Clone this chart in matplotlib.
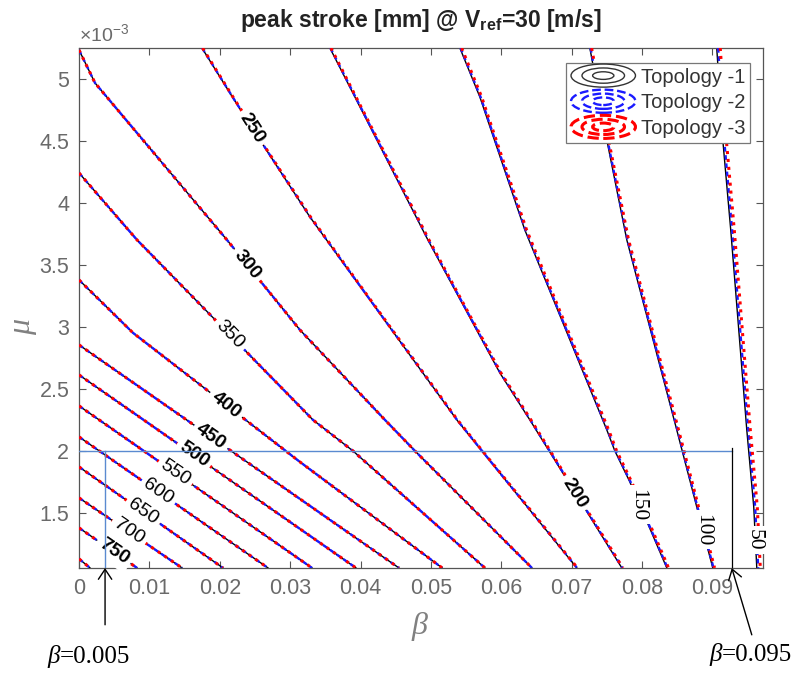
import numpy as np
import matplotlib
matplotlib.use("Agg")
import matplotlib.pyplot as plt
from matplotlib.lines import Line2D
from matplotlib.patches import Ellipse
from matplotlib.legend_handler import HandlerBase
from matplotlib.ticker import FuncFormatter

plt.rcParams["font.family"] = ["Liberation Sans", "DejaVu Sans"]
plt.rcParams["mathtext.fontset"] = "custom"
plt.rcParams["mathtext.rm"] = "Liberation Sans"
plt.rcParams["mathtext.it"] = "Liberation Sans:italic"
plt.rcParams["mathtext.bf"] = "Liberation Sans:bold"

# contour lines of peak stroke [mm] for topology 1
# beta values, mu values in units of 1e-3
b800 = [0.0, 0.00156]
m800 = [1.129, 1.056]
b750 = [0.0, 0.00824]
m750 = [1.379, 1.056]
b700 = [0.0, 0.01463]
m700 = [1.621, 1.056]
b650 = [0.0, 0.02045]
m650 = [1.871, 1.056]
b600 = [0.0, 0.02685]
m600 = [2.113, 1.056]
b550 = [0.0, 0.0331]
m550 = [2.363, 1.056]
b500 = [0.0, 0.03935]
m500 = [2.613, 1.056]
b450 = [0.0, 0.04545]
m450 = [2.855, 1.056]
b400 = [0.0, 0.00767, 0.03139, 0.0516]
m400 = [3.379, 2.952, 1.911, 1.056]
b350 = [0.0, 0.00824, 0.03324, 0.03892, 0.05767]
m350 = [4.242, 3.702, 2.25, 2.0, 1.056]
b300 = [0.0, 0.00227, 0.02102, 0.03139, 0.04347, 0.04773, 0.06435]
m300 = [5.234, 4.968, 3.702, 2.976, 2.25, 2.0, 1.056]
b250 = [0.01747, 0.02188, 0.02543, 0.03281, 0.05369, 0.05724, 0.07074]
m250 = [5.25, 4.847, 4.532, 3.887, 2.25, 2.0, 1.056]
b200 = [0.03565, 0.04957, 0.0598, 0.06406, 0.07713]
m200 = [5.25, 3.702, 2.629, 2.25, 1.056]
b150 = [0.05412, 0.05696, 0.06335, 0.075, 0.07614, 0.07827, 0.08352]
m150 = [5.25, 4.855, 3.782, 2.169, 2.0, 1.75, 1.056]
b100 = [0.07259, 0.075, 0.07784, 0.08494, 0.08778, 0.09006]
m100 = [5.25, 4.508, 3.702, 2.169, 1.548, 1.056]
b50 = [0.09062, 0.09148, 0.09261, 0.09489, 0.09588, 0.09631]
m50 = [5.25, 4.508, 3.782, 2.169, 1.548, 1.056]

levels = [800, 750, 700, 650, 600, 550, 500, 450, 400, 350, 300, 250, 200, 150, 100, 50]
line_b = [b800, b750, b700, b650, b600, b550, b500, b450, b400, b350, b300, b250, b200, b150, b100, b50]
line_m = [m800, m750, m700, m650, m600, m550, m500, m450, m400, m350, m300, m250, m200, m150, m100, m50]

# how far topology 2 and 3 sit to the right of topology 1 (in beta)
shift2 = [0, 0, 0, 0, 0, 0, 0, 0, 0, 0, 0, 0.00003, 0.00008, 0.0001, 0.0001, 0.0002]
shift3 = [0, 0, 0, 0, 0, 0, 0, 0, 0, 0, 0, 0.00008, 0.00015, 0.00025, 0.00025, 0.0005]

topologies = ["Topology -1", "Topology -2", "Topology -3"]

# inline labels (sans) : level, mu position (1e-3), bold?
lab_levels = [250, 300, 350, 400, 450, 500, 550, 600, 650, 700, 750, 200]
lab_mu = [4.605, 3.5, 2.935, 2.371, 2.113, 1.968, 1.823, 1.669, 1.508, 1.347, 1.185, 1.661]
lab_bold = [True, True, False, True, True, True, False, False, False, False, True, True]

# hand-placed labels (serif, vertical)
man_text = ["150", "100", "50"]
man_beta = [0.0794, 0.08864, 0.09588]
man_mu = [1.565, 1.363, 1.282]

mu_mark = 2.0          # 1e-3
beta_lo_line = 0.0037
beta_hi_line = 0.09276


class ContourIcon(HandlerBase):
    def create_artists(self, legend, orig_handle, xdescent, ydescent,
                       width, height, fontsize, trans):
        cx = width / 2 - xdescent
        cy = height / 2 - ydescent
        arts = []
        for s in (1.0, 0.66, 0.33):
            e = Ellipse((cx, cy), width * s, height * 1.5 * s, fill=False,
                        edgecolor=orig_handle.get_color(),
                        linestyle=orig_handle.get_linestyle(),
                        linewidth=orig_handle.get_linewidth(),
                        transform=trans)
            arts.append(e)
        return arts


fig = plt.figure(figsize=(7.95, 6.75), dpi=100)
ax = fig.add_axes([0.0994, 0.1585, 0.8604, 0.7704])
ax.set_xlim(0, 0.0972)
ax.set_ylim(1.055e-3, 5.25e-3)

styles = [
    dict(color="black", ls="-", lw=1.0, zorder=2),
    dict(color="#1a1aff", ls=(0, (2, 1.5)), lw=1.7, zorder=3),
    dict(color="red", ls=(0, (1, 1.6)), lw=2.2, zorder=4),
]
shifts = [[0] * len(levels), shift2, shift3]

for k in range(len(levels)):
    for st, sh in zip(styles, shifts):
        ax.plot(np.array(line_b[k]) + sh[k], np.array(line_m[k]) * 1e-3, **st)

# inline labels
for lev, m, bold in zip(lab_levels, lab_mu, lab_bold):
    i = levels.index(lev)
    bs, ms = line_b[i], line_m[i]
    b = np.interp(m, ms[::-1], bs[::-1])
    pts = ax.transData.transform(np.column_stack([bs, np.array(ms) * 1e-3]))
    j = 0
    for j in range(len(ms) - 1):
        if ms[j] >= m >= ms[j + 1]:
            break
    dx, dy = pts[j + 1] - pts[j]
    ang = np.degrees(np.arctan2(dy, dx))
    if ang > 90:
        ang -= 180
    if ang < -90:
        ang += 180
    ax.text(b, m * 1e-3, str(lev), rotation=ang, rotation_mode="anchor",
            ha="center", va="center", fontsize=14,
            fontweight="bold" if bold else "normal", color="black",
            bbox=dict(boxstyle="square,pad=0.2", fc="white", ec="none"),
            zorder=6)

for t, b, m in zip(man_text, man_beta, man_mu):
    ax.text(b, m * 1e-3, t, rotation=-90, ha="center", va="center",
            fontsize=15.5, family="Liberation Serif", color="black",
            bbox=dict(boxstyle="square,pad=0.15", fc="white", ec="none"),
            zorder=6)

# marker lines
mark_blue = "#5a8ad0"
ax.plot([0, beta_hi_line], [mu_mark * 1e-3] * 2, color=mark_blue, lw=1.0, zorder=7)
ax.plot([beta_lo_line] * 2, [1.055e-3, mu_mark * 1e-3], color=mark_blue, lw=1.0, zorder=7)
ax.plot([beta_hi_line] * 2, [1.055e-3, 2.02e-3], color="black", lw=0.9, zorder=7)

arrow = dict(arrowstyle="->,head_length=0.45,head_width=0.3", color="black",
             lw=1.0, shrinkA=0, shrinkB=0, mutation_scale=16)
ax.annotate("", xy=(beta_lo_line, 1.055e-3), xytext=(beta_lo_line, 0.597e-3),
            arrowprops=arrow, annotation_clip=False)
ax.annotate("", xy=(beta_hi_line, 1.055e-3), xytext=(0.0956, 0.516e-3),
            arrowprops=arrow, annotation_clip=False)

for xs, ys, val in [(-0.0027, 0.339e-3, "=0.005"), (0.09134, 0.355e-3, "=0.095")]:
    ax.text(xs, ys, "β", ha="right", va="center", fontsize=18,
            family="Liberation Serif", style="italic", color="black")
    ax.text(xs, ys, val, ha="left", va="center", fontsize=18,
            family="Liberation Serif", color="black")

# axes styling
ax.set_xticks(np.arange(0, 0.095, 0.01))
ax.set_yticks(np.arange(1.5e-3, 5.01e-3, 0.5e-3))
ax.xaxis.set_major_formatter(FuncFormatter(lambda v, p: "%g" % round(v, 4)))
ax.yaxis.set_major_formatter(FuncFormatter(lambda v, p: "%g" % round(v * 1e3, 3)))
ax.tick_params(direction="in", top=True, right=True, length=5, width=0.8,
               colors="#555555", labelcolor="#6a6a6a", labelsize=15.5, pad=7)
for sp in ax.spines.values():
    sp.set_color("#555555")
    sp.set_linewidth(0.9)

ax.text(0, 1.006, r"$\times10^{-3}$", transform=ax.transAxes, ha="left",
        va="bottom", fontsize=14, color="#6a6a6a")
ax.text(0.4985, -0.113, "β", transform=ax.transAxes, ha="center", va="center",
        fontsize=23, family="Liberation Serif", style="italic", color="#808080")
ax.text(-0.083, 0.4635, "μ", transform=ax.transAxes, ha="center", va="center",
        rotation=90, fontsize=23, family="Liberation Serif", style="italic",
        color="#808080")
ax.set_title(r"peak stroke [mm] @ V$_{\mathbf{ref}}$=30 [m/s]", fontsize=16.5,
             fontweight="bold", color="#222222", pad=15)

proxies = [Line2D([], [], color=st["color"], ls=st["ls"], lw=st["lw"]) for st in styles]
proxies[0].set_color("#333333")
leg = ax.legend(proxies, topologies, loc="upper right",
                bbox_to_anchor=(0.981, 0.972), borderaxespad=0, fontsize=14.5,
                handler_map={Line2D: ContourIcon()}, handlelength=3.2,
                handleheight=0.8, handletextpad=0.25, labelspacing=0.33,
                borderpad=0.25, fancybox=False, framealpha=1,
                edgecolor="#777777")
leg.get_frame().set_linewidth(0.9)
leg.set_zorder(10)
for t in leg.get_texts():
    t.set_color("#333333")

fig.savefig("out.png", dpi=100)
